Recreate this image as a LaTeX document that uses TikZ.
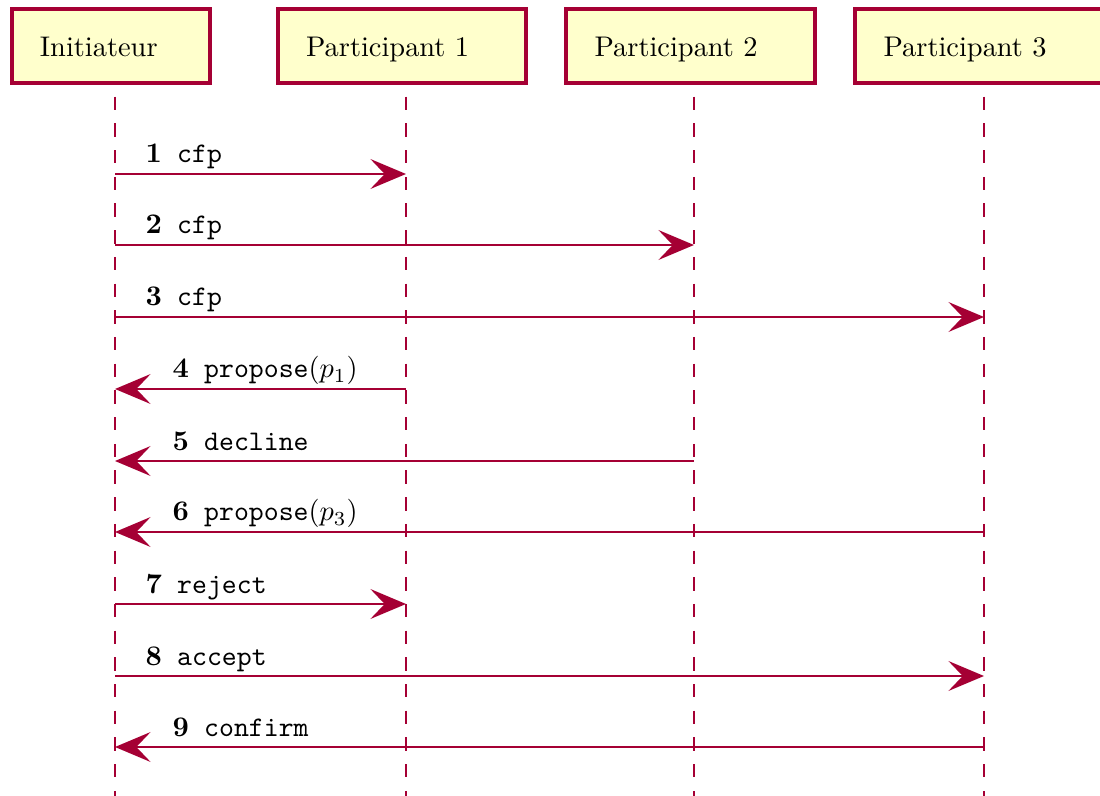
\documentclass[tikz,border=0pt]{standalone}
\usetikzlibrary{arrows.meta}
\definecolor{crim}{RGB}{165,0,52}
\definecolor{boxfill}{RGB}{255,255,204}
\begin{document}
\begin{tikzpicture}[x=0.3521pt,y=-0.3521pt,
  actor/.style={draw=crim, fill=boxfill, line width=1.4pt, minimum height=26pt,
    inner xsep=10pt, inner ysep=0pt, text height=7.5pt, text depth=0pt, align=left},
  lifeline/.style={draw=crim, line width=1pt, dash pattern=on 4.7pt off 4.7pt},
  msg/.style={draw=crim, line width=1pt, -{Stealth[length=12.5pt, width=10.5pt, inset=5pt]}},
  lbl/.style={anchor=base west, inner sep=0pt}]
\useasboundingbox (0,0) rectangle (1100,796);
% header boxes
\node[actor, text width=50pt] (ini) at (111,46) {Initiateur};
\node[actor, text width=67.5pt] (p1) at (402,46) {Participant 1};
\node[actor, text width=67.5pt] (p2) at (690.5,46) {Participant 2};
\node[actor, text width=67.5pt] (p3) at (979.5,46) {Participant 3};
% lifelines
\coordinate (Lt0) at (115,96.7); \coordinate (Lb0) at (115,796);
\coordinate (Lt1) at (406,96.7); \coordinate (Lb1) at (406,796);
\coordinate (Lt2) at (694,96.7); \coordinate (Lb2) at (694,796);
\coordinate (Lt3) at (984,96.7); \coordinate (Lb3) at (984,796);
\draw[lifeline] (Lt0) -- (Lb0);
\draw[lifeline] (Lt1) -- (Lb1);
\draw[lifeline] (Lt2) -- (Lb2);
\draw[lifeline] (Lt3) -- (Lb3);
% messages
\coordinate (a1) at (115,174); \coordinate (b1) at (406,174);
\coordinate (a2) at (115,245); \coordinate (b2) at (694,245);
\coordinate (a3) at (115,317); \coordinate (b3) at (984,317);
\coordinate (a4) at (115,389); \coordinate (b4) at (406,389);
\coordinate (a5) at (115,461); \coordinate (b5) at (694,461);
\coordinate (a6) at (115,532); \coordinate (b6) at (984,532);
\coordinate (a7) at (115,604); \coordinate (b7) at (406,604);
\coordinate (a8) at (115,676); \coordinate (b8) at (984,676);
\coordinate (a9) at (115,747); \coordinate (b9) at (984,747);
\draw[msg] (a1) -- (b1);
\draw[msg] (a2) -- (b2);
\draw[msg] (a3) -- (b3);
\draw[msg] (b4) -- (a4);
\draw[msg] (b5) -- (a5);
\draw[msg] (b6) -- (a6);
\draw[msg] (a7) -- (b7);
\draw[msg] (a8) -- (b8);
\draw[msg] (b9) -- (a9);
% labels
\newcommand{\msglbl}[2]{\textbf{#1}\hspace{5.4pt}#2}
\path (a1) ++(30,-11) node[lbl] (m1) {\msglbl{1}{\texttt{cfp}}};
\path (a2) ++(30,-11) node[lbl] (m2) {\msglbl{2}{\texttt{cfp}}};
\path (a3) ++(30,-11) node[lbl] (m3) {\msglbl{3}{\texttt{cfp}}};
\path (a4) ++(57,-11) node[lbl] (m4) {\msglbl{4}{\texttt{propose}$(p_1)$}};
\path (a5) ++(57,-11) node[lbl] (m5) {\msglbl{5}{\texttt{decline}}};
\path (a6) ++(57,-11) node[lbl] (m6) {\msglbl{6}{\texttt{propose}$(p_3)$}};
\path (a7) ++(30,-11) node[lbl] (m7) {\msglbl{7}{\texttt{reject}}};
\path (a8) ++(30,-11) node[lbl] (m8) {\msglbl{8}{\texttt{accept}}};
\path (a9) ++(57,-11) node[lbl] (m9) {\msglbl{9}{\texttt{confirm}}};
\end{tikzpicture}
\end{document}
